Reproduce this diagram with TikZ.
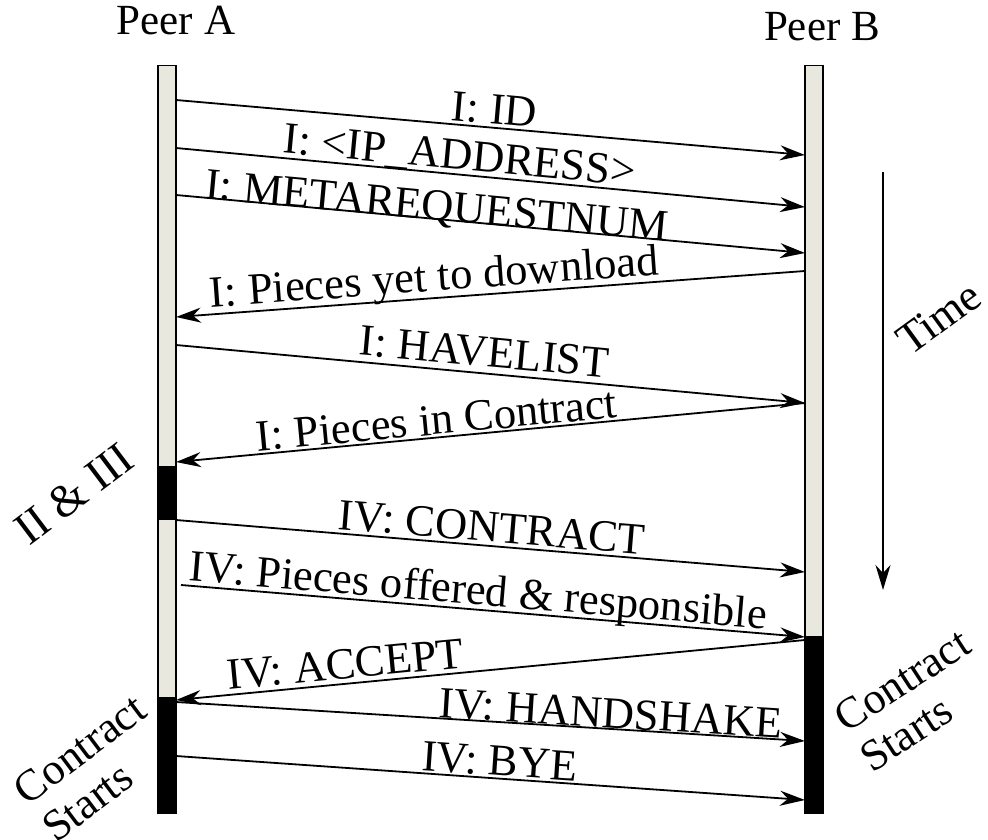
\documentclass[tikz,border=0pt]{standalone}
\usepackage{fontspec}
\setmainfont{Liberation Serif}
\usetikzlibrary{arrows.meta}
\definecolor{barfill}{RGB}{232,232,222}
\begin{document}
\begin{tikzpicture}[x=1pt,y=-1pt]
\useasboundingbox (0,0) rectangle (988,840);
\tikzset{
  msg/.style={draw, line width=1.8pt, -{Stealth[length=25pt,width=15pt,inset=8pt]}},
  lbl/.style={font=\fontsize{44.5}{46}\selectfont, inner sep=0pt},
  lab/.style={lbl, sloped, anchor=base, yshift=#1},
  head/.style={font=\fontsize{43}{45}\selectfont, inner sep=0pt},
  side/.style={font=\fontsize{44}{47}\selectfont, inner sep=0pt, align=left},
  lifebar/.style={draw, line width=1.5pt, fill=barfill, minimum width=18pt, minimum height=747pt, anchor=north, inner sep=0pt},
  busy/.style={fill=black}
}
% headers
\node[head] (pa) at (176,21) {Peer A};
\node[head] (pb) at (822,27) {Peer B};
% lifelines
\node[lifebar] (A) at (167,65) {};
\node[lifebar] (B) at (814,65) {};
\fill[busy] (158,466) rectangle (176,520);
\fill[busy] (158,697) rectangle (176,812);
\fill[busy] (805,636) rectangle (823,812);
% endpoints
\coordinate (a1) at (176,100); \coordinate (b1) at (805,155);
\coordinate (a2) at (176,148); \coordinate (b2) at (805,207);
\coordinate (a3) at (176,195); \coordinate (b3) at (805,253);
\coordinate (b4) at (805,271); \coordinate (a4) at (176,317);
\coordinate (a5) at (176,345); \coordinate (b5) at (805,403);
\coordinate (b6) at (805,403); \coordinate (a6) at (176,462);
\coordinate (a7) at (176,520); \coordinate (b7) at (805,572);
\coordinate (a8) at (181,585); \coordinate (b8) at (805,637);
\coordinate (b9) at (805,640); \coordinate (a9) at (176,700);
\coordinate (a10) at (176,702); \coordinate (b10) at (805,741);
\coordinate (a11) at (176,756); \coordinate (b11) at (805,800);
% messages with labels
\draw[msg] (a1) -- node[lab=4pt, pos=0.504] (l1) {I: ID} (b1);
\draw[msg] (a2) -- node[lab=5pt, pos=0.448] (l2) {I: <IP\_ADDRESS>} (b2);
\draw[msg] (a3) -- node[lab=-1pt, pos=0.413] (l3) {I: METAREQUESTNUM} (b3);
\draw[msg] (b4) -- node[lab=7pt, pos=0.587] (l4) {I: Pieces yet to download} (a4);
\draw[msg] (a5) -- node[lab=7pt, pos=0.487] (l5) {I: HAVELIST} (b5);
\draw[msg] (b6) -- node[lab=3pt, pos=0.583] (l6) {I: Pieces in Contract} (a6);
\draw[msg] (a7) -- node[lab=4pt, pos=0.5] (l7) {IV: CONTRACT} (b7);
\draw[msg] (a8) -- node[lab=5pt, pos=0.474] (l8) {IV: Pieces offered \& responsible} (b8);
\draw[msg] (b9) -- node[lab=5pt, pos=0.728] (l9) {IV: ACCEPT} (a9);
\draw[msg] (a10) -- node[lab=1pt, pos=0.69] (l10) {IV: HANDSHAKE} (b10);
\draw[msg] (a11) -- node[lab=3pt, pos=0.513] (l11) {IV: BYE} (b11);
% side notes
\node[side, rotate=37, font=\fontsize{46}{48}\selectfont] (n1) at (74,494) {II \& III};
\node[side, rotate=37] (n2) at (94,768) {Contract\\Starts};
\node[side, rotate=33] (n3) at (915,700) {Contract\\Starts};
% time
\coordinate (t0) at (883,172);
\coordinate (t1) at (883,590);
\draw[msg] (t0) -- (t1);
\node[lbl, rotate=36] (tl) at (939,318) {Time};
\end{tikzpicture}
\end{document}
